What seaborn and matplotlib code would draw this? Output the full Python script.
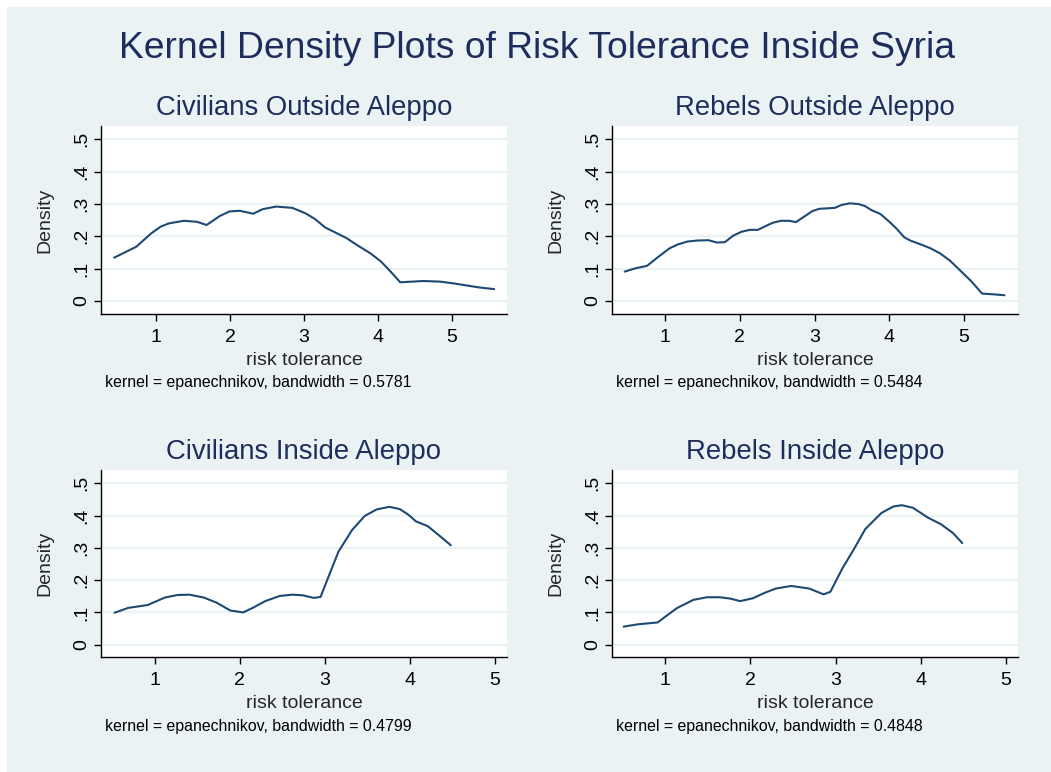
import numpy as np
import pandas as pd
import seaborn as sns
import matplotlib.pyplot as plt
from matplotlib.patches import Rectangle

# values
civ_out_x = [0.43, 0.73, 0.93, 1.06, 1.17, 1.37, 1.55, 1.68, 1.86, 1.99, 2.13, 2.31, 2.44, 2.62,
             2.84, 3.02, 3.15, 3.28, 3.42, 3.57, 3.73, 3.90, 4.04, 4.17, 4.30, 4.61, 4.84, 5.01,
             5.37, 5.57]
civ_out_y = [0.134, 0.168, 0.209, 0.230, 0.240, 0.248, 0.245, 0.235, 0.263, 0.277, 0.279, 0.270,
             0.284, 0.292, 0.288, 0.271, 0.253, 0.228, 0.212, 0.195, 0.171, 0.147, 0.122, 0.091,
             0.058, 0.062, 0.060, 0.055, 0.042, 0.037]

reb_out_x = [0.46, 0.60, 0.76, 0.90, 1.06, 1.17, 1.30, 1.43, 1.58, 1.69, 1.80, 1.91, 2.02, 2.13,
             2.24, 2.33, 2.44, 2.55, 2.66, 2.75, 2.86, 2.97, 3.06, 3.27, 3.36, 3.47, 3.58, 3.67,
             3.76, 3.88, 4.00, 4.09, 4.20, 4.28, 4.42, 4.55, 4.68, 4.81, 4.94, 5.10, 5.24, 5.38,
             5.54]
reb_out_y = [0.091, 0.101, 0.109, 0.135, 0.163, 0.175, 0.184, 0.187, 0.188, 0.181, 0.182, 0.202,
             0.214, 0.220, 0.220, 0.230, 0.242, 0.248, 0.248, 0.244, 0.261, 0.278, 0.285, 0.288,
             0.297, 0.302, 0.300, 0.294, 0.281, 0.269, 0.245, 0.225, 0.197, 0.187, 0.175, 0.163,
             0.147, 0.125, 0.096, 0.060, 0.023, 0.021, 0.018]

civ_in_x = [0.53, 0.69, 0.92, 1.12, 1.27, 1.41, 1.58, 1.73, 1.89, 2.04, 2.16, 2.30, 2.47, 2.62,
            2.74, 2.87, 2.95, 3.05, 3.16, 3.32, 3.47, 3.61, 3.76, 3.88, 3.98, 4.07, 4.21, 4.34,
            4.48]
civ_in_y = [0.099, 0.114, 0.123, 0.146, 0.154, 0.155, 0.146, 0.130, 0.106, 0.100, 0.115, 0.135,
            0.151, 0.155, 0.153, 0.145, 0.148, 0.215, 0.288, 0.355, 0.399, 0.419, 0.427, 0.420,
            0.403, 0.382, 0.367, 0.339, 0.308]

reb_in_x = [0.51, 0.67, 0.91, 1.00, 1.14, 1.33, 1.49, 1.64, 1.76, 1.88, 2.03, 2.17, 2.30, 2.48,
            2.69, 2.86, 2.94, 3.08, 3.21, 3.35, 3.54, 3.68, 3.78, 3.91, 4.09, 4.24, 4.38, 4.49]
reb_in_y = [0.056, 0.063, 0.069, 0.087, 0.114, 0.139, 0.147, 0.147, 0.143, 0.135, 0.144, 0.161,
            0.174, 0.182, 0.174, 0.156, 0.164, 0.236, 0.293, 0.358, 0.408, 0.428, 0.432, 0.424,
            0.393, 0.373, 0.346, 0.315]

titles = ["Civilians Outside Aleppo", "Rebels Outside Aleppo",
          "Civilians Inside Aleppo", "Rebels Inside Aleppo"]
bandwidths = ["0.5781", "0.5484", "0.4799", "0.4848"]
y_ticks = [0, 0.1, 0.2, 0.3, 0.4, 0.5]
y_tick_labels = ["0", ".1", ".2", ".3", ".4", ".5"]
x_ticks = [1, 2, 3, 4, 5]


def main():
    sns.set_style("white")
    plt.rcParams['font.family'] = ['Liberation Sans', 'DejaVu Sans']

    bg = '#eaf2f3'
    navy = '#1e2d5c'
    line_col = '#1d4a74'

    fig = plt.figure(figsize=(10.51, 7.72), dpi=100, facecolor='white')
    fig.patches.append(Rectangle((7 / 1051, 0), 1, 1 - 7 / 772, transform=fig.transFigure,
                                 facecolor=bg, edgecolor='none', zorder=-10))

    W, H = 1051, 772
    # axes boxes in pixels: left, top, right, bottom
    boxes = [(101, 126, 507, 314), (612, 126, 1018, 314),
             (101, 470, 507, 657), (612, 470, 1018, 657)]
    xlims = [(0.252, 5.744), (0.29, 5.72), (0.371, 5.14), (0.373, 5.145)]
    ylims = [(-0.04, 0.541), (-0.04, 0.541), (-0.038, 0.541), (-0.038, 0.541)]
    series = [(civ_out_x, civ_out_y), (reb_out_x, reb_out_y),
              (civ_in_x, civ_in_y), (reb_in_x, reb_in_y)]

    for i in range(4):
        l, t, r, b = boxes[i]
        ax = fig.add_axes([l / W, 1 - b / H, (r - l) / W, (b - t) / H])
        ax.set_facecolor('white')
        df = pd.DataFrame({'risk tolerance': series[i][0], 'Density': series[i][1]})
        sns.lineplot(x='risk tolerance', y='Density', data=df, ax=ax, color=line_col,
                     linewidth=1.5, sort=False)
        ax.set_xlim(*xlims[i])
        ax.set_ylim(*ylims[i])
        ax.set_xticks(x_ticks)
        ax.set_yticks(y_ticks)
        ax.set_yticklabels(y_tick_labels, rotation=90, va='center')
        for yv in y_ticks:
            ax.axhline(yv, color=bg, linewidth=1.6, zorder=0)
        for s in ['top', 'right']:
            ax.spines[s].set_visible(False)
        for s in ['left', 'bottom']:
            ax.spines[s].set_color('black')
            ax.spines[s].set_linewidth(1.0)
        ax.tick_params(axis='both', direction='out', length=5, width=1.0, color='black',
                       labelsize=14, labelcolor='black', left=True, bottom=True)
        ax.tick_params(axis='x', pad=6)
        ax.tick_params(axis='y', pad=3)
        ax.set_xlabel("risk tolerance", fontsize=14, labelpad=4)
        ax.set_ylabel("Density", fontsize=14, labelpad=14)
        ax.text(0.5, 1 + 18 / (b - t), titles[i], transform=ax.transAxes, ha='center',
                va='center', fontsize=19.8, color=navy)
        ax.text(4 / (r - l), -69 / (b - t), "kernel = epanechnikov, bandwidth = " + bandwidths[i],
                transform=ax.transAxes, ha='left', va='center', fontsize=11.4, color='black')

    fig.text(537 / W, 1 - 49 / H, "Kernel Density Plots of Risk Tolerance Inside Syria",
             ha='center', va='center', fontsize=26.8, color=navy)

    plt.savefig("out.png", dpi=100, facecolor=fig.get_facecolor())


if __name__ == "__main__":
    main()
